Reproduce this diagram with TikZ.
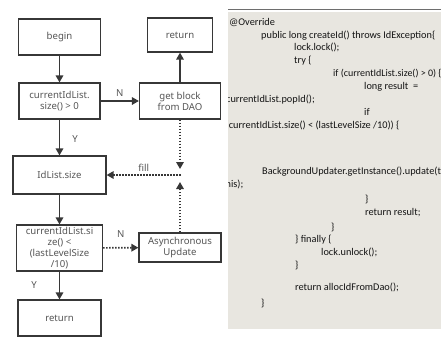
\documentclass[tikz,border=0pt]{standalone}
\usepackage{fontspec}
\usetikzlibrary{arrows.meta}
\newfontfamily\flowfont{Noto Sans}
\newfontfamily\codefont{Carlito}
\definecolor{panel}{RGB}{232,230,224}
\definecolor{boxline}{RGB}{55,55,55}
\definecolor{flowtext}{RGB}{85,85,85}
\definecolor{codetext}{RGB}{20,20,20}
\definecolor{rule}{RGB}{110,110,110}
\tikzset{
  flowbox/.style={draw=boxline, line width=1.2pt, fill=white,
    font=\flowfont\fontsize{9.6}{11}\selectfont, text=flowtext,
    align=center, inner sep=0pt},
  arrowline/.style={draw=boxline, line width=1.6pt, -{Triangle[length=7pt,width=7.5pt]}},
  dotline/.style={arrowline, dash pattern=on 1.6pt off 1.4pt},
  lbl/.style={font=\flowfont\fontsize{9.6}{11}\selectfont, text=flowtext, inner sep=0pt},
  codeline/.style={anchor=mid west, font=\codefont\fontsize{10.3}{12}\selectfont,
    text=codetext, inner sep=0pt}
}
\begin{document}
\begin{tikzpicture}[x=1pt,y=-1pt]
\useasboundingbox (0,0) rectangle (441,338);
% flowchart
\node[flowbox, minimum width=82pt, minimum height=36pt] (begin) at (59.5,37) {begin};
\node[flowbox, minimum width=65pt, minimum height=34pt] (ret1) at (180,35) {return};
\node[flowbox, minimum width=81pt, minimum height=36pt] (cond1) at (59.5,101) {currentIdList.\\size() > 0};
\node[flowbox, minimum width=81pt, minimum height=36pt] (get) at (180,101) {get block\\from DAO};
\node[flowbox, minimum width=93pt, minimum height=38pt] (idl) at (59.5,175) {IdList.size};
\node[flowbox, minimum width=86pt, minimum height=46pt] (cond2) at (59.5,248) {currentIdList.si\\ze() <\\(lastLevelSize\\/10)};
\node[flowbox, minimum width=82pt, minimum height=29pt] (async) at (180,247.5) {Asynchronous\\Update};
\node[flowbox, minimum width=83pt, minimum height=36pt] (ret2) at (59.5,318) {return};
\coordinate (j1) at (180,169);
\coordinate (j2) at (180,182);
\coordinate (j) at (181,175);
\draw[arrowline] (begin) -- (cond1);
\draw[arrowline] (cond1) -- node[lbl, above=4pt] {N} (get);
\draw[arrowline] (get) -- (ret1);
\draw[dotline] (get) -- (j1);
\draw[dotline] (async) -- (j2);
\draw[dotline] (j) -- node[lbl, above=3pt] {fill} (idl);
\draw[arrowline] (cond1) -- node[lbl, pos=0.55, right=12pt] {Y} (idl);
\draw[arrowline] (idl) -- (cond2);
\draw[dotline] (cond2) -- node[lbl, above=9pt] {N} (async);
\draw[arrowline] (cond2) -- node[lbl, pos=0.5, left=22pt] {Y} (ret2);
% code panel
\fill[panel] (228,12) rectangle (440.5,329);
\draw[rule, line width=1pt] (228,9.5) -- (441,9.5);
\begin{scope}
\clip (228,12) rectangle (441,329);
\node[codeline] (c1) at (229,23) {@Override};
\node[codeline] (c2) at (261,36) {public long createId() throws IdException\{};
\node[codeline] (c3) at (294,48) {lock.lock();};
\node[codeline] (c4) at (294,61) {try \{};
\node[codeline, font=\codefont\fontsize{10}{12}\selectfont] (c5) at (333,74) {if (currentIdList.size() > 0) \{};
\node[codeline] (c6) at (364,87) {long result\ \ =};
\node[codeline] (c7) at (226,100) {currentIdList.popId();};
\node[codeline] (c8) at (364,113) {if};
\node[codeline] (c9) at (225.5,126) {(currentIdList.size() < (lastLevelSize /10)) \{};
\node[codeline] (c10) at (262,172) {BackgroundUpdater.getInstance().update(t};
\node[codeline] (c11) at (225.5,185) {his);};
\node[codeline] (c12) at (365,200) {\}};
\node[codeline] (c13) at (365,213) {return result;};
\node[codeline] (c14) at (331,228) {\}};
\node[codeline] (c15) at (295,240) {\} finally \{};
\node[codeline] (c16) at (321,253) {lock.unlock();};
\node[codeline] (c17) at (295,266) {\}};
\node[codeline] (c18) at (295,288) {return allocIdFromDao();};
\node[codeline] (c19) at (261,304) {\}};
\end{scope}
\end{tikzpicture}
\end{document}
